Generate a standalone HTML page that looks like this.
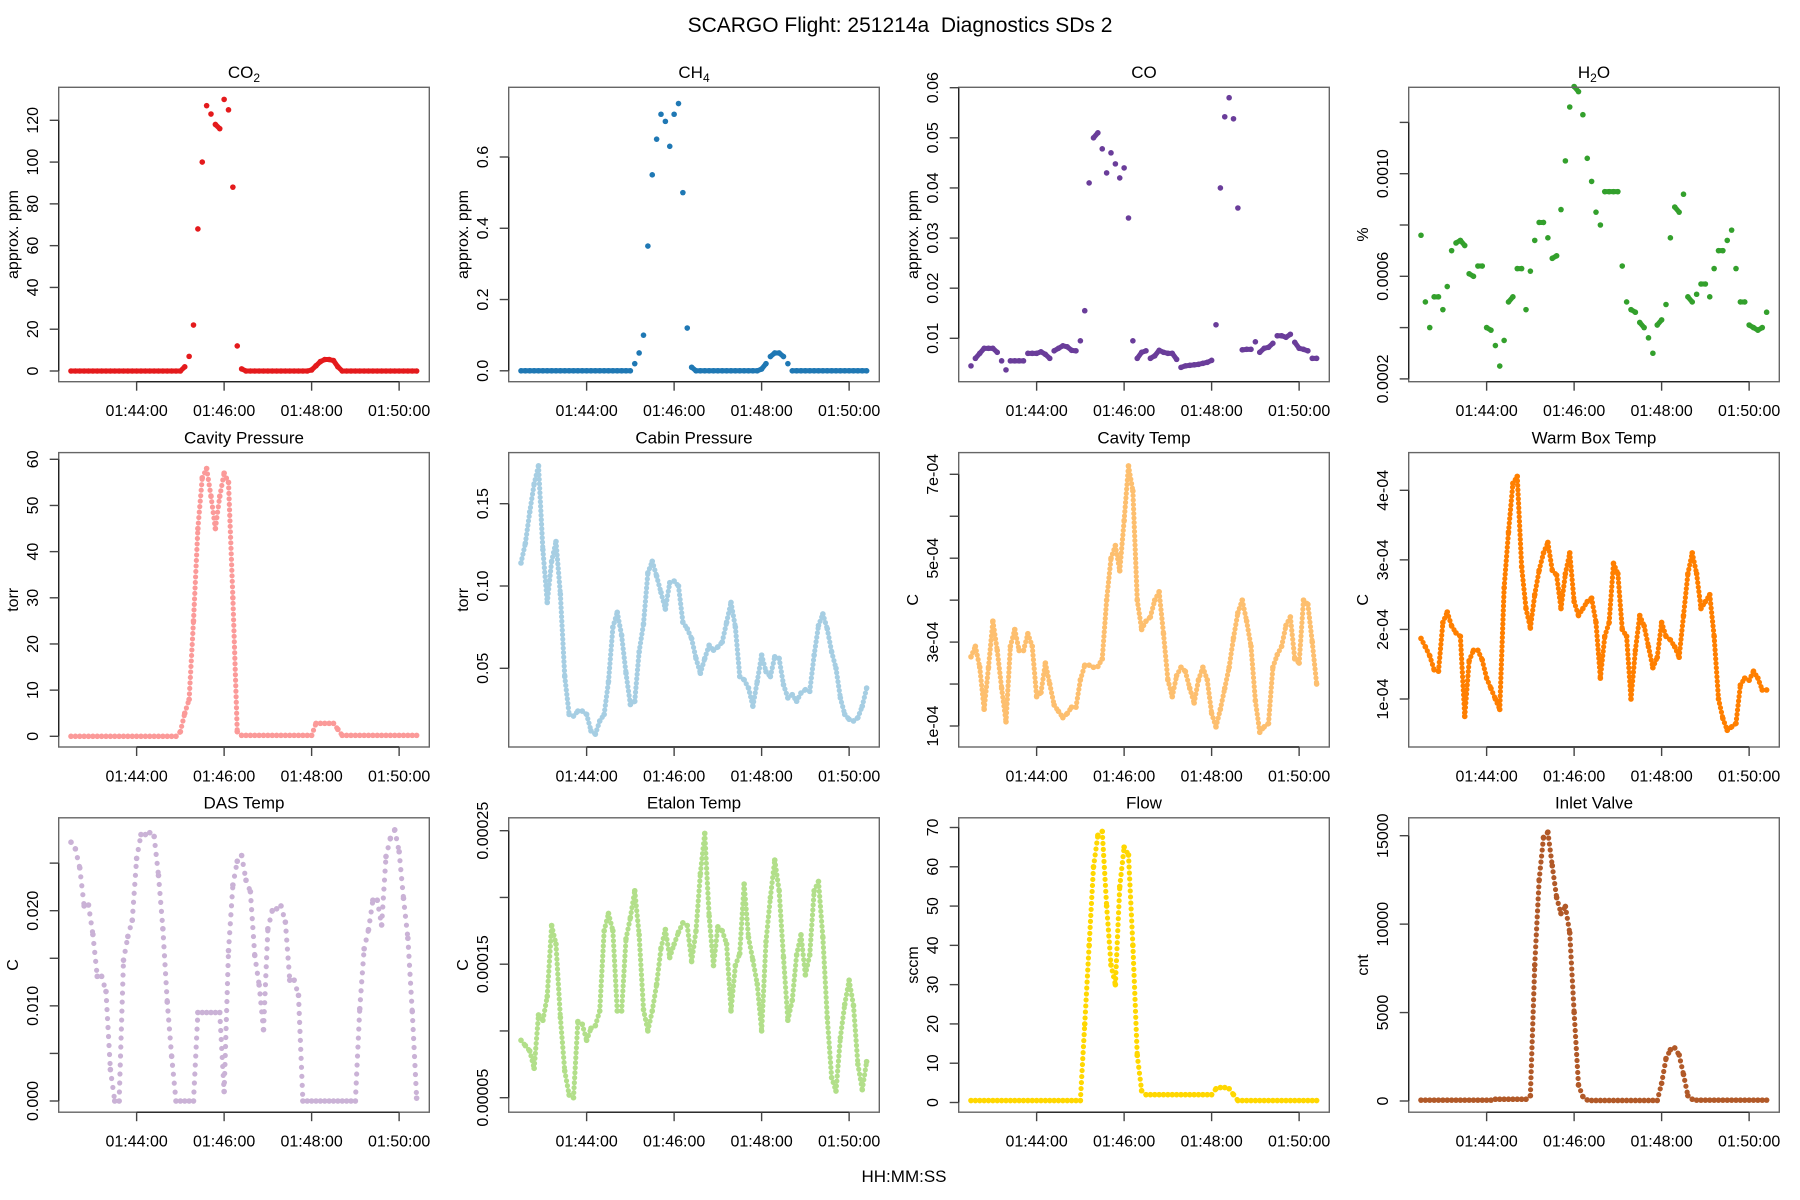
<!DOCTYPE html>
<html><head><meta charset="utf-8"><style>
html,body{margin:0;padding:0;background:#fff;}
svg{display:block;font-family:"Liberation Sans",Arial,sans-serif;}
</style></head><body>
<svg id="fig" width="1800" height="1200" viewBox="0 0 1800 1200" xmlns="http://www.w3.org/2000/svg">
<rect width="1800" height="1200" fill="#fff"/>
<text x="900" y="32" font-size="21" text-anchor="middle" fill="#000" xml:space="preserve">SCARGO Flight: 251214a &#160;Diagnostics SDs 2</text>
<text x="904" y="1182" font-size="17" text-anchor="middle" fill="#000">HH:MM:SS</text>
</svg>
<script>
// shared time axis: seconds after 01:42:30, one sample every 6 s
const sampleStepSec = 6;
const xTickSec = [90, 210, 330, 450];
const xTickLabels = ["01:44:00", "01:46:00", "01:48:00", "01:50:00"];

const co2Values = [0,0,0,0,0,0,0,0,0,0,0,0,0,0,0,0,0,0,0,0,0,0,0,0,0,0,2,7,22,68,100,127,123,118,116,130,125,88,12,1,0,0,0,0,0,0,0,0,0,0,0,0,0,0,0,0.5,2.5,4.5,5.5,5.5,5,2,0,0,0,0,0,0,0,0,0,0,0,0,0,0,0,0,0,0];
const ch4Values = [0,0,0,0,0,0,0,0,0,0,0,0,0,0,0,0,0,0,0,0,0,0,0,0,0,0,0.02,0.05,0.1,0.35,0.55,0.65,0.72,0.7,0.63,0.72,0.75,0.5,0.12,0.01,0,0,0,0,0,0,0,0,0,0,0,0,0,0,0,0.005,0.02,0.04,0.05,0.05,0.04,0.02,0,0,0,0,0,0,0,0,0,0,0,0,0,0,0,0,0,0];
const coValues = [0.0045,0.006,0.007,0.008,0.008,0.008,0.0072,0.0055,0.0037,0.0055,0.0055,0.0055,0.0055,0.007,0.007,0.007,0.0073,0.0068,0.006,0.0075,0.008,0.0085,0.0083,0.0076,0.0075,0.0095,0.0155,0.041,0.05,0.051,0.0478,0.043,0.047,0.0448,0.042,0.044,0.034,0.0095,0.006,0.0072,0.0075,0.006,0.0065,0.0076,0.0072,0.007,0.007,0.0058,0.0042,0.0045,0.0046,0.0047,0.0048,0.005,0.0052,0.0056,0.0127,0.04,0.0542,0.058,0.0538,0.036,0.0077,0.0078,0.0078,0.0093,0.0072,0.008,0.0082,0.009,0.0105,0.0105,0.0102,0.0108,0.0092,0.008,0.0078,0.0075,0.006,0.006];
const h2oValues = [0.00076,0.0005,0.0004,0.00052,0.00052,0.00047,0.00056,0.0007,0.00073,0.00074,0.00072,0.00061,0.0006,0.00064,0.00064,0.0004,0.00039,0.00033,0.00025,0.00035,0.0005,0.00052,0.00063,0.00063,0.00047,0.00062,0.00074,0.00081,0.00081,0.00075,0.00067,0.00068,0.00086,0.00105,0.00126,0.00134,0.00132,0.00123,0.00106,0.00097,0.00085,0.0008,0.00093,0.00093,0.00093,0.00093,0.00064,0.0005,0.00047,0.00046,0.00042,0.0004,0.00036,0.0003,0.00041,0.00043,0.00049,0.00075,0.00087,0.00085,0.00092,0.00052,0.0005,0.00053,0.00057,0.00057,0.00052,0.00063,0.0007,0.0007,0.00074,0.00078,0.00063,0.0005,0.0005,0.00041,0.0004,0.00039,0.0004,0.00046];
const cavityPressureValues = [0,0,0,0,0,0,0,0,0,0,0,0,0,0,0,0,0,0,0,0,0,0,0,0,0,1,5,8,25,45,56,58,52,45,52,57,55,30,1,0.2,0.2,0.2,0.2,0.2,0.2,0.2,0.2,0.2,0.2,0.2,0.2,0.2,0.2,0.2,0.2,0.2,2.8,2.8,2.8,2.8,2.8,1.5,0.2,0.2,0.2,0.2,0.2,0.2,0.2,0.2,0.2,0.2,0.2,0.2,0.2,0.2,0.2,0.2,0.2,0.2];
const cabinPressureValues = [0.114,0.126,0.145,0.162,0.173,0.122,0.09,0.115,0.127,0.095,0.045,0.022,0.021,0.024,0.024,0.022,0.012,0.01,0.018,0.022,0.042,0.075,0.084,0.07,0.047,0.028,0.03,0.06,0.077,0.108,0.115,0.106,0.096,0.086,0.102,0.103,0.1,0.078,0.074,0.068,0.056,0.047,0.056,0.064,0.061,0.063,0.066,0.078,0.09,0.075,0.045,0.043,0.038,0.027,0.042,0.058,0.048,0.045,0.057,0.056,0.04,0.032,0.034,0.03,0.035,0.037,0.036,0.058,0.076,0.083,0.074,0.06,0.05,0.032,0.022,0.019,0.018,0.02,0.027,0.038];
const cavityTempValues = [2.65e-4,2.9e-4,2.4e-4,1.4e-4,2.4e-4,3.5e-4,2.8e-4,1.9e-4,1.1e-4,2.9e-4,3.3e-4,2.8e-4,2.8e-4,3.2e-4,2.9e-4,1.7e-4,1.8e-4,2.5e-4,2.0e-4,1.5e-4,1.35e-4,1.2e-4,1.3e-4,1.45e-4,1.45e-4,2.1e-4,2.45e-4,2.45e-4,2.4e-4,2.42e-4,2.6e-4,4.0e-4,5.0e-4,5.3e-4,4.7e-4,5.9e-4,7.2e-4,6.6e-4,4.0e-4,3.3e-4,3.5e-4,3.6e-4,4.0e-4,4.2e-4,3.2e-4,2.1e-4,1.7e-4,2.2e-4,2.4e-4,2.3e-4,1.9e-4,1.55e-4,2.1e-4,2.4e-4,2.1e-4,1.3e-4,0.98e-4,1.4e-4,1.9e-4,2.4e-4,3.1e-4,3.7e-4,4.0e-4,3.5e-4,2.9e-4,1.6e-4,0.85e-4,0.98e-4,1.06e-4,2.4e-4,2.7e-4,2.9e-4,3.4e-4,3.6e-4,2.6e-4,2.5e-4,4.0e-4,3.9e-4,3.0e-4,2.0e-4];
const warmBoxTempValues = [1.87e-4,1.75e-4,1.62e-4,1.42e-4,1.4e-4,2.1e-4,2.25e-4,2.05e-4,1.95e-4,1.9e-4,0.75e-4,1.55e-4,1.7e-4,1.7e-4,1.56e-4,1.3e-4,1.15e-4,1.0e-4,0.85e-4,2.6e-4,3.4e-4,4.1e-4,4.2e-4,2.9e-4,2.3e-4,2.02e-4,2.5e-4,2.85e-4,3.1e-4,3.25e-4,2.85e-4,2.78e-4,2.3e-4,2.8e-4,3.1e-4,2.4e-4,2.2e-4,2.3e-4,2.4e-4,2.45e-4,2.1e-4,1.3e-4,1.9e-4,2.1e-4,2.95e-4,2.8e-4,2.0e-4,1.9e-4,1.0e-4,1.7e-4,2.2e-4,2.05e-4,1.75e-4,1.45e-4,1.6e-4,2.1e-4,1.9e-4,1.85e-4,1.75e-4,1.6e-4,2.2e-4,2.8e-4,3.1e-4,2.8e-4,2.3e-4,2.4e-4,2.5e-4,1.9e-4,1.0e-4,0.72e-4,0.55e-4,0.6e-4,0.65e-4,1.2e-4,1.3e-4,1.27e-4,1.4e-4,1.3e-4,1.13e-4,1.13e-4];
const dasTempValues = [0.0272,0.0265,0.0245,0.0205,0.0206,0.0175,0.0131,0.0131,0.0115,0.0033,0,0,0.0148,0.0173,0.019,0.0255,0.028,0.028,0.0282,0.0278,0.0237,0.0181,0.0104,0.0047,0,0,0,0,0,0.0093,0.0093,0.0093,0.0093,0.0093,0.0093,0.001,0.0158,0.0227,0.0252,0.0258,0.0232,0.022,0.0153,0.0122,0.0075,0.0181,0.02,0.0202,0.0205,0.0188,0.0127,0.0127,0.0111,0,0,0,0,0,0,0,0,0,0,0,0,0,0.0097,0.016,0.018,0.0211,0.0211,0.0185,0.0257,0.0276,0.0285,0.0262,0.0213,0.0171,0.0094,0.0003];
const etalonTempValues = [9.3e-5,8.9e-5,8.5e-5,7.2e-5,11.2e-5,10.8e-5,12.6e-5,17.9e-5,16.5e-5,11e-5,7e-5,5.2e-5,5.0e-5,10.7e-5,10.5e-5,9.3e-5,10.2e-5,10.4e-5,11.5e-5,17.5e-5,18.8e-5,17.5e-5,11.5e-5,11.5e-5,16.9e-5,18.5e-5,20.5e-5,17.2e-5,11.6e-5,10.0e-5,11.5e-5,13.5e-5,16.2e-5,17.6e-5,15.5e-5,16.5e-5,17.4e-5,18.1e-5,17.9e-5,15.2e-5,17.5e-5,21.8e-5,24.8e-5,18.6e-5,14.9e-5,17.8e-5,17.5e-5,16.5e-5,11.5e-5,14.9e-5,15.8e-5,21e-5,17.0e-5,15.3e-5,13.5e-5,10e-5,16.7e-5,20e-5,22.8e-5,20.5e-5,15.5e-5,10.8e-5,12.3e-5,15.7e-5,17.2e-5,14.2e-5,15.7e-5,20.5e-5,21.2e-5,17e-5,11e-5,6.5e-5,5.5e-5,9.5e-5,12e-5,13.8e-5,11.9e-5,7.5e-5,5.6e-5,7.7e-5];
const flowValues = [0.5,0.5,0.5,0.5,0.5,0.5,0.5,0.5,0.5,0.5,0.5,0.5,0.5,0.5,0.5,0.5,0.5,0.5,0.5,0.5,0.5,0.5,0.5,0.5,0.5,0.5,20,40,60,68,69,50,35,30,55,65,63,40,12,3,2,2,2,2,2,2,2,2,2,2,2,2,2,2,2,2,3.5,3.8,3.8,3.5,2,0.5,0.5,0.5,0.5,0.5,0.5,0.5,0.5,0.5,0.5,0.5,0.5,0.5,0.5,0.5,0.5,0.5,0.5,0.5];
const inletValveValues = [50,50,50,50,50,50,50,50,50,50,50,50,50,50,50,50,50,100,100,100,100,100,100,100,100,300,7700,12500,14900,15200,13300,11500,10600,11000,9500,5000,900,250,60,30,30,30,30,30,30,30,30,30,30,30,30,30,30,30,30,1000,2400,2900,3000,2600,1500,300,100,50,50,50,50,50,50,50,50,50,50,50,50,50,50,50,50,50];

const co2Ticks = [0,20,40,60,80,100,120];
const co2TickLabels = ["0","20","40","60","80","100","120"];
const ch4Ticks = [0,0.2,0.4,0.6];
const ch4TickLabels = ["0.0","0.2","0.4","0.6"];
const coTicks = [0.01,0.02,0.03,0.04,0.05,0.06];
const coTickLabels = ["0.01","0.02","0.03","0.04","0.05","0.06"];
const h2oTicks = [0.0002,0.0004,0.0006,0.0008,0.0010,0.0012];
const h2oTickLabels = ["0.0002","","0.0006","","0.0010",""];
const cavityPressureTicks = [0,10,20,30,40,50,60];
const cavityPressureTickLabels = ["0","10","20","30","40","50","60"];
const cabinPressureTicks = [0.05,0.10,0.15];
const cabinPressureTickLabels = ["0.05","0.10","0.15"];
const cavityTempTicks = [1e-4,2e-4,3e-4,4e-4,5e-4,6e-4,7e-4];
const cavityTempTickLabels = ["1e-04","","3e-04","","5e-04","","7e-04"];
const warmBoxTempTicks = [1e-4,2e-4,3e-4,4e-4];
const warmBoxTempTickLabels = ["1e-04","2e-04","3e-04","4e-04"];
const dasTempTicks = [0,0.005,0.010,0.015,0.020,0.025];
const dasTempTickLabels = ["0.000","","0.010","","0.020",""];
const etalonTempTicks = [0.00005,0.0001,0.00015,0.0002,0.00025];
const etalonTempTickLabels = ["0.00005","","0.00015","","0.00025"];
const flowTicks = [0,10,20,30,40,50,60,70];
const flowTickLabels = ["0","10","20","30","40","50","60","70"];
const inletValveTicks = [0,5000,10000,15000];
const inletValveTickLabels = ["0","5000","10000","15000"];

const NS = "http://www.w3.org/2000/svg";
const svg = document.getElementById("fig");
const rowOffsets = [0, 365.3, 730.5];
const boxL = 58.7, boxR = 429.3, boxT = 87.3, boxB = 381.7;

const panels = [
  {key:"co2", title:["CO","2",""], ytitle:"approx. ppm", color:"#E41A1C", values:co2Values, ticks:co2Ticks, labels:co2TickLabels, cal:[0,371,120,120.3], gap:0},
  {key:"ch4", title:["CH","4",""], ytitle:"approx. ppm", color:"#1F78B4", values:ch4Values, ticks:ch4Ticks, labels:ch4TickLabels, cal:[0,370.8,0.6,157], gap:0},
  {key:"co", title:["CO","",""], ytitle:"approx. ppm", color:"#6A3D9A", values:coValues, ticks:coTicks, labels:coTickLabels, cal:[0.01,338.3,0.06,87.7], gap:0},
  {key:"h2o", title:["H","2","O"], ytitle:"%", color:"#33A02C", values:h2oValues, ticks:h2oTicks, labels:h2oTickLabels, cal:[0.0006,276.3,0.001,173.7], gap:0},
  {key:"cavity-pressure", title:["Cavity Pressure","",""], ytitle:"torr", color:"#FB9A99", values:cavityPressureValues, ticks:cavityPressureTicks, labels:cavityPressureTickLabels, cal:[0,371,60,94], gap:5.5},
  {key:"cabin-pressure", title:["Cabin Pressure","",""], ytitle:"torr", color:"#A6CEE3", values:cabinPressureValues, ticks:cabinPressureTicks, labels:cabinPressureTickLabels, cal:[0.05,303,0.15,138.4], gap:4.5},
  {key:"cavity-temp", title:["Cavity Temp","",""], ytitle:"C", color:"#FDBF6F", values:cavityTempValues, ticks:cavityTempTicks, labels:cavityTempTickLabels, cal:[1e-4,360.7,7e-4,109], gap:4.5},
  {key:"warm-box-temp", title:["Warm Box Temp","",""], ytitle:"C", color:"#FF7F00", values:warmBoxTempValues, ticks:warmBoxTempTicks, labels:warmBoxTempTickLabels, cal:[1e-4,333.7,4e-4,125], gap:4.5},
  {key:"das-temp", title:["DAS Temp","",""], ytitle:"C", color:"#CAB2D6", values:dasTempValues, ticks:dasTempTicks, labels:dasTempTickLabels, cal:[0,370.5,0.02,180.2], gap:9},
  {key:"etalon-temp", title:["Etalon Temp","",""], ytitle:"C", color:"#B2DF8A", values:etalonTempValues, ticks:etalonTempTicks, labels:etalonTempTickLabels, cal:[0.00005,367.2,0.00025,100.2], gap:5},
  {key:"flow", title:["Flow","",""], ytitle:"sccm", color:"#FFD700", values:flowValues, ticks:flowTicks, labels:flowTickLabels, cal:[0,372,70,97], gap:6},
  {key:"inlet-valve", title:["Inlet Valve","",""], ytitle:"cnt", color:"#B15928", values:inletValveValues, ticks:inletValveTicks, labels:inletValveTickLabels, cal:[0,370.5,15000,105.2], gap:6}
];

function mk(tag, attrs, parent){
  const e = document.createElementNS(NS, tag);
  for (const k in attrs) e.setAttribute(k, attrs[k]);
  parent.appendChild(e);
  return e;
}
function xScale(sec){ return 71 + sec * (87.5/120); }

panels.forEach((p, idx) => {
  const col = idx % 4, row = Math.floor(idx / 4);
  const g = mk("g", {transform:`translate(${col*450},${rowOffsets[row]})`}, svg);
  
  
  const [vA, pA, vB, pB] = p.cal;
  const yScale = v => pA + (v - vA) * (pB - pA) / (vB - vA);

  // title
  const t = mk("text", {x:244, y:78, "font-size":17, "text-anchor":"middle", fill:"#000"}, g);
  
  
  t.appendChild(document.createTextNode(p.title[0]));
  if (p.title[1]) {
    const s = mk("tspan", {dy:4, "font-size":12}, t);
    s.textContent = p.title[1];
    if (p.title[2]) { const s2 = mk("tspan", {dy:-4}, t); s2.textContent = p.title[2]; }
  }

  // series
  const pts = mk("g", {fill:p.color, stroke:p.color}, g);
  
  
  const xy = p.values.map((v, i) => [xScale(i*sampleStepSec), yScale(v)]);
  for (let i = 1; i < xy.length; i++) {
    const dy = Math.abs(xy[i][1] - xy[i-1][1]);
    if (p.gap > 0) {
      mk("line", {x1:xy[i-1][0].toFixed(2), y1:xy[i-1][1].toFixed(2), x2:xy[i][0].toFixed(2), y2:xy[i][1].toFixed(2), "stroke-width":5.2, "stroke-linecap":"round", "stroke-dasharray":`0 ${p.gap}`}, pts);
    } else if (dy < 7) {
      mk("line", {x1:xy[i-1][0].toFixed(2), y1:xy[i-1][1].toFixed(2), x2:xy[i][0].toFixed(2), y2:xy[i][1].toFixed(2), "stroke-width":5, "stroke-linecap":"round"}, pts);
    }
  }
  xy.forEach(([x, y]) => {
    const c = mk("circle", {cx:x.toFixed(2), cy:y.toFixed(2), r:2.8, stroke:"none"}, pts);
    
    
  });

  // box
  const box = mk("rect", {x:boxL, y:boxT, width:boxR-boxL, height:boxB-boxT, fill:"none", stroke:"#666", "stroke-width":1.4}, g);
  
  

  // x axis
  const xa = mk("g", {}, g);
  
  
  const xs = xTickSec.map(xScale);
  mk("line", {x1:xs[0], x2:xs[xs.length-1], y1:boxB, y2:boxB, stroke:"#222", "stroke-width":1.4}, xa);
  xTickSec.forEach((s, k) => {
    const x = xScale(s);
    mk("line", {x1:x, x2:x, y1:boxB, y2:boxB+9, stroke:"#444", "stroke-width":1.4}, xa);
    const lt = mk("text", {x:x, y:416, "font-size":16, "text-anchor":"middle", fill:"#000"}, xa);
    
    
    lt.textContent = xTickLabels[k];
  });

  // y axis
  const ya = mk("g", {}, g);
  
  
  const ys = p.ticks.map(yScale);
  mk("line", {x1:boxL, x2:boxL, y1:ys[0], y2:ys[ys.length-1], stroke:"#222", "stroke-width":1.4}, ya);
  p.ticks.forEach((v, k) => {
    const y = yScale(v);
    mk("line", {x1:boxL-9, x2:boxL, y1:y, y2:y, stroke:"#444", "stroke-width":1.4}, ya);
    if (p.labels[k]) {
      const lt = mk("text", {x:0, y:0, "font-size":16, "text-anchor":"middle", fill:"#000", transform:`translate(38,${y}) rotate(-90)`}, ya);
      
      
      lt.textContent = p.labels[k];
    }
  });
  const yt = mk("text", {x:0, y:0, "font-size":16, "text-anchor":"middle", fill:"#000", transform:`translate(18,${(boxT+boxB)/2}) rotate(-90)`}, g);
  
  
  yt.textContent = p.ytitle;
});
</script>
</body></html>
